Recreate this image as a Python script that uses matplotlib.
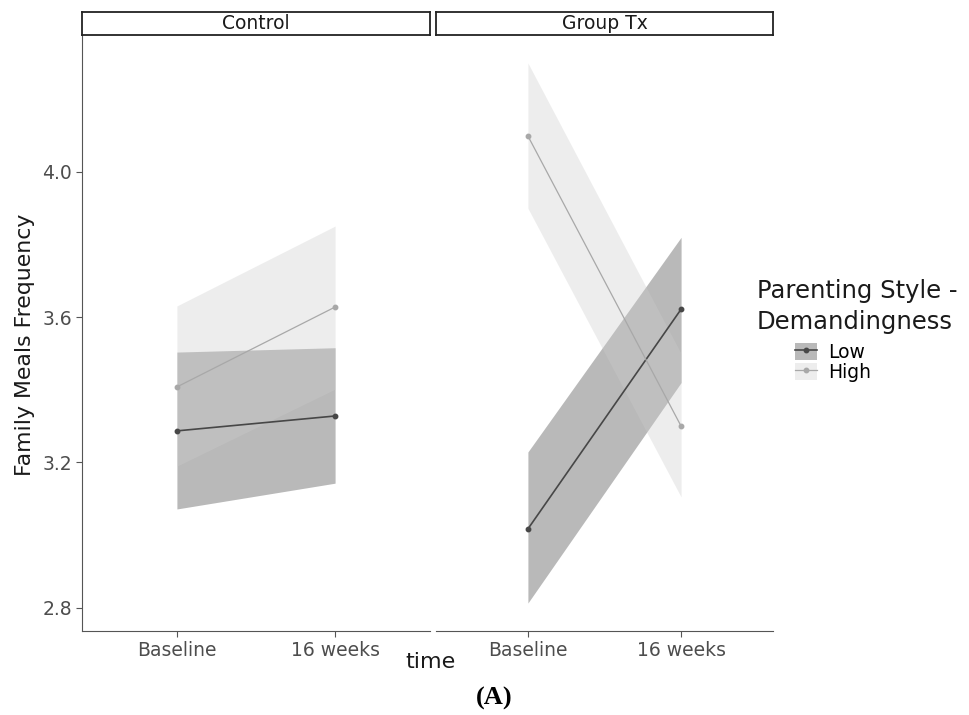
import matplotlib.pyplot as plt
from matplotlib import font_manager
from matplotlib.patches import Patch
from matplotlib.lines import Line2D

times = ['Baseline', '16 weeks']
groups = ['Control', 'Group Tx']
styles = ['Low', 'High']

# estimated means and confidence bands, one row per group, one column per time
low_mean = [[3.287, 3.328], [3.017, 3.622]]
low_lower = [[3.072, 3.143], [2.813, 3.420]]
low_upper = [[3.504, 3.516], [3.229, 3.820]]
high_mean = [[3.408, 3.628], [4.099, 3.300]]
high_lower = [[3.190, 3.402], [3.900, 3.105]]
high_upper = [[3.631, 3.851], [4.300, 3.500]]

y_ticks = [2.8, 3.2, 3.6, 4.0]

names = {f.name for f in font_manager.fontManager.ttflist}
narrow = 'Liberation Sans Narrow' in names

W, H = 969, 715
fig = plt.figure(figsize=(W / 100, H / 100), dpi=100)


def fx(px):
    return px / W


def fy(py):
    return 1 - py / H


fill_col = {'Low': '#333333', 'High': '#cccccc'}
line_col = {'Low': '#474747', 'High': '#a8a8a8'}
line_w = {'Low': 1.2, 'High': 0.9}

panels = [(82, 430), (436, 773)]
top, bottom = 35, 631
xs = [0, 1]

for i, (left, right) in enumerate(panels):
    ax = fig.add_axes([fx(left), fy(bottom), fx(right - left), (bottom - top) / H])
    series = [('Low', low_mean, low_lower, low_upper),
              ('High', high_mean, high_lower, high_upper)]
    for name, mean, lo, hi in series:
        ax.fill_between(xs, lo[i], hi[i], color=fill_col[name], alpha=0.34,
                        linewidth=0)
    for name, mean, lo, hi in series:
        ax.plot(xs, mean[i], color=line_col[name], lw=line_w[name],
                marker='o', markersize=3.2)

    ax.set_xlim(-0.6, 1.6)
    ax.set_ylim(2.736, 4.377)
    ax.set_xticks(xs)
    ax.set_xticklabels(times)
    ax.set_yticks(y_ticks)
    ax.set_yticklabels(['%.1f' % v for v in y_ticks])
    for s in ['top', 'right']:
        ax.spines[s].set_visible(False)
    ax.spines['bottom'].set_color('#555555')
    ax.spines['left'].set_color('#555555')
    ax.tick_params(colors='#555555', labelcolor='#4d4d4d', labelsize=13.5,
                   length=4, width=0.8, pad=3)
    if i == 1:
        ax.spines['left'].set_visible(False)
        ax.tick_params(axis='y', left=False, labelleft=False)

    # facet strip
    sax = fig.add_axes([fx(left), fy(35), fx(right - left), 23 / H])
    sax.set_xticks([])
    sax.set_yticks([])
    for s in sax.spines.values():
        s.set_color('#222222')
        s.set_linewidth(1.3)
    sax.text(0.5, 0.5, groups[i], ha='center', va='center', fontsize=13.5,
             color='#1a1a1a', transform=sax.transAxes)

if narrow:
    fig.text(fx(25), fy(345), 'Family Meals Frequency', rotation=90,
             ha='center', va='center', fontsize=20,
             family='Liberation Sans Narrow', color='#1a1a1a')
else:
    fig.text(fx(25), fy(345), 'Family Meals Frequency', rotation=90,
             ha='center', va='center', fontsize=15.8, color='#1a1a1a')

fig.text(fx(430), fy(662), 'time', ha='center', va='center', fontsize=16,
         color='#1a1a1a')

# legend
fig.text(fx(757), fy(291), 'Parenting Style -', ha='left', va='center',
         fontsize=17.5, color='#1a1a1a')
fig.text(fx(757), fy(322), 'Demandingness', ha='left', va='center',
         fontsize=17.5, color='#1a1a1a')
handles = []
for name in styles:
    handles.append((Patch(facecolor=fill_col[name], alpha=0.34, linewidth=0),
                    Line2D([], [], color=line_col[name], lw=line_w[name],
                           marker='o', markersize=3.2)))
fig.legend(handles, styles, loc='upper left',
           bbox_to_anchor=(fx(791), fy(339)), frameon=False, fontsize=13.5,
           handlelength=1.2, handleheight=1.0, handletextpad=0.6,
           labelspacing=0.05, borderaxespad=0, borderpad=0.2)

fig.text(fx(494), fy(698), '(A)', ha='center', va='center', fontsize=19,
         fontweight='bold', family='Liberation Serif', color='black')

fig.savefig('out.png', dpi=100)
